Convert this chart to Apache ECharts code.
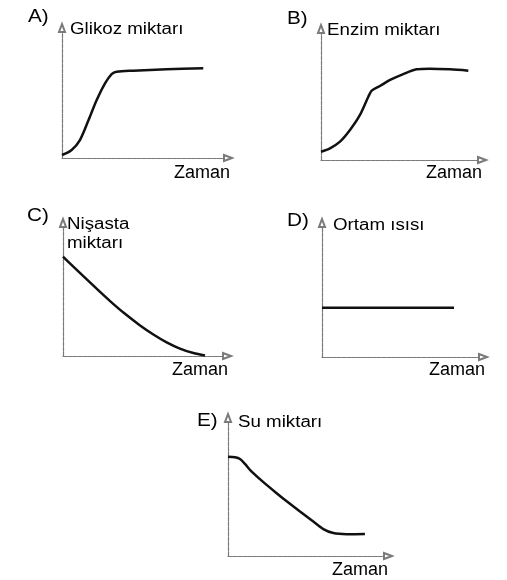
<!DOCTYPE html>
<html>
<head>
<meta charset="utf-8">
<script src="https://cdn.jsdelivr.net/npm/echarts@6/dist/echarts.min.js"></script>
<style>
  html, body { margin: 0; padding: 0; background: #fff; }
  #chart { width: 507px; height: 580px; }
</style>
</head>
<body>
<div id="chart"></div>
<script>
// Panel captions
const panelLetters = ['A)', 'B)', 'C)', 'D)', 'E)'];
const yLabels = ['Glikoz miktarı', 'Enzim miktarı', 'Nişasta\nmiktarı', 'Ortam ısısı', 'Su miktarı'];
const xLabel = 'Zaman';

// A) glucose over time
const glikozTime   = [0, 5.8, 10.8, 16, 20.9, 25.9, 29.9, 32.9, 42.9, 63, 85.1];
const glikozAmount = [2.3, 6.2, 13.8, 29.2, 44.6, 57.4, 64.6, 66.4, 67.2, 68.2, 69];

// B) enzyme over time
const enzimTime   = [0, 5.6, 11.8, 18, 24.2, 29.4, 31.5, 36.6, 42.9, 51.1, 59.4, 67.4, 80.1, 91.5];
const enzimAmount = [6.3, 8.9, 14, 22.9, 34.4, 48.3, 52.9, 56.5, 61.1, 65.6, 69.2, 69.7, 69.2, 68.2];

// C) starch over time
const nisastaTime   = [0, 6.3, 12.4, 20.5, 28.7, 37.8, 47, 55.1, 63.2, 71.3, 79.5, 86.6];
const nisastaAmount = [74.7, 67.2, 60, 50.6, 41.3, 31.7, 23, 16.2, 10.3, 5.6, 2.2, 0.4];

// D) ambient temperature over time
const isiTime  = [0, 82];
const isiLevel = [36.8, 36.8];

// E) water over time
const suTime   = [0, 4.4, 7.5, 10.6, 14.8, 22.1, 30.4, 36.7, 45, 53.3, 59.6, 65.8, 74.2, 85.6];
const suAmount = [72, 71.5, 70.3, 66.7, 61.1, 53.5, 45.5, 39.6, 32.2, 25, 19.5, 16.6, 15.8, 15.9];

const seriesData = [
  [glikozTime, glikozAmount],
  [enzimTime, enzimAmount],
  [nisastaTime, nisastaAmount],
  [isiTime, isiLevel],
  [suTime, suAmount]
];

// Layout of the five small plots
const grids = [
  { left: 62,  top: 28,  width: 166, height: 130 },
  { left: 321, top: 29,  width: 161, height: 131 },
  { left: 63,  top: 223, width: 164, height: 133 },
  { left: 322, top: 223, width: 161, height: 134 },
  { left: 228, top: 418, width: 160, height: 138 }
];
// Caption anchors: letter (x, y), y-label (x, y), x-label right edge (x, y)
const captionPos = [
  { letter: [28, 17],  label: [70, 30],  x: [230, 173] },
  { letter: [287, 19], label: [327, 31], x: [482, 173] },
  { letter: [27, 216], label: [67, 215], x: [228, 370] },
  { letter: [287, 221], label: [333, 226], x: [485, 370] },
  { letter: [197, 421], label: [238, 423], x: [388, 570] }
];

const FONT = '"Liberation Sans", Arial, sans-serif';
const axisLineStyle = { color: '#7a7a7a', width: 1.2, type: [4, 1] };

function makeAxis(i) {
  return {
    type: 'value', gridIndex: i, min: 0, max: 100,
    axisLine: { show: true, onZero: false, lineStyle: axisLineStyle,
                symbol: ['none', 'emptyTriangle'], symbolSize: [6, 8] },
    axisTick: { show: false }, axisLabel: { show: false }, splitLine: { show: false }
  };
}

const graphics = [];
captionPos.forEach((p, i) => {
  graphics.push({
    type: 'text', x: p.letter[0], y: p.letter[1], scaleX: 1.15,
    style: { text: panelLetters[i], font: '18px ' + FONT, fill: '#000',
             textAlign: 'left', textVerticalAlign: 'middle' }
  });
  graphics.push({
    type: 'text', x: p.label[0], y: p.label[1], scaleX: 1.17,
    style: { text: yLabels[i], font: '16px ' + FONT, fill: '#000', lineHeight: 19,
             textAlign: 'left', textVerticalAlign: i === 2 ? 'top' : 'middle' }
  });
  graphics.push({
    type: 'text', x: p.x[0], y: p.x[1],
    style: { text: xLabel, font: '18px ' + FONT, fill: '#000',
             textAlign: 'right', textVerticalAlign: 'middle' }
  });
});

const chart = echarts.init(document.getElementById('chart'), null, { renderer: 'canvas' });
chart.setOption({
  backgroundColor: '#fff',
  animation: false,
  grid: grids.map(g => Object.assign({ containLabel: false }, g)),
  xAxis: grids.map((g, i) => makeAxis(i)),
  yAxis: grids.map((g, i) => makeAxis(i)),
  series: seriesData.map((d, i) => ({
    type: 'line', xAxisIndex: i, yAxisIndex: i,
    data: d[0].map((t, k) => [t, d[1][k]]),
    smooth: i === 3 ? false : 0.3,
    showSymbol: false,
    lineStyle: { color: '#111', width: 2.5 }
  })),
  graphic: graphics
});
</script>
</body>
</html>
